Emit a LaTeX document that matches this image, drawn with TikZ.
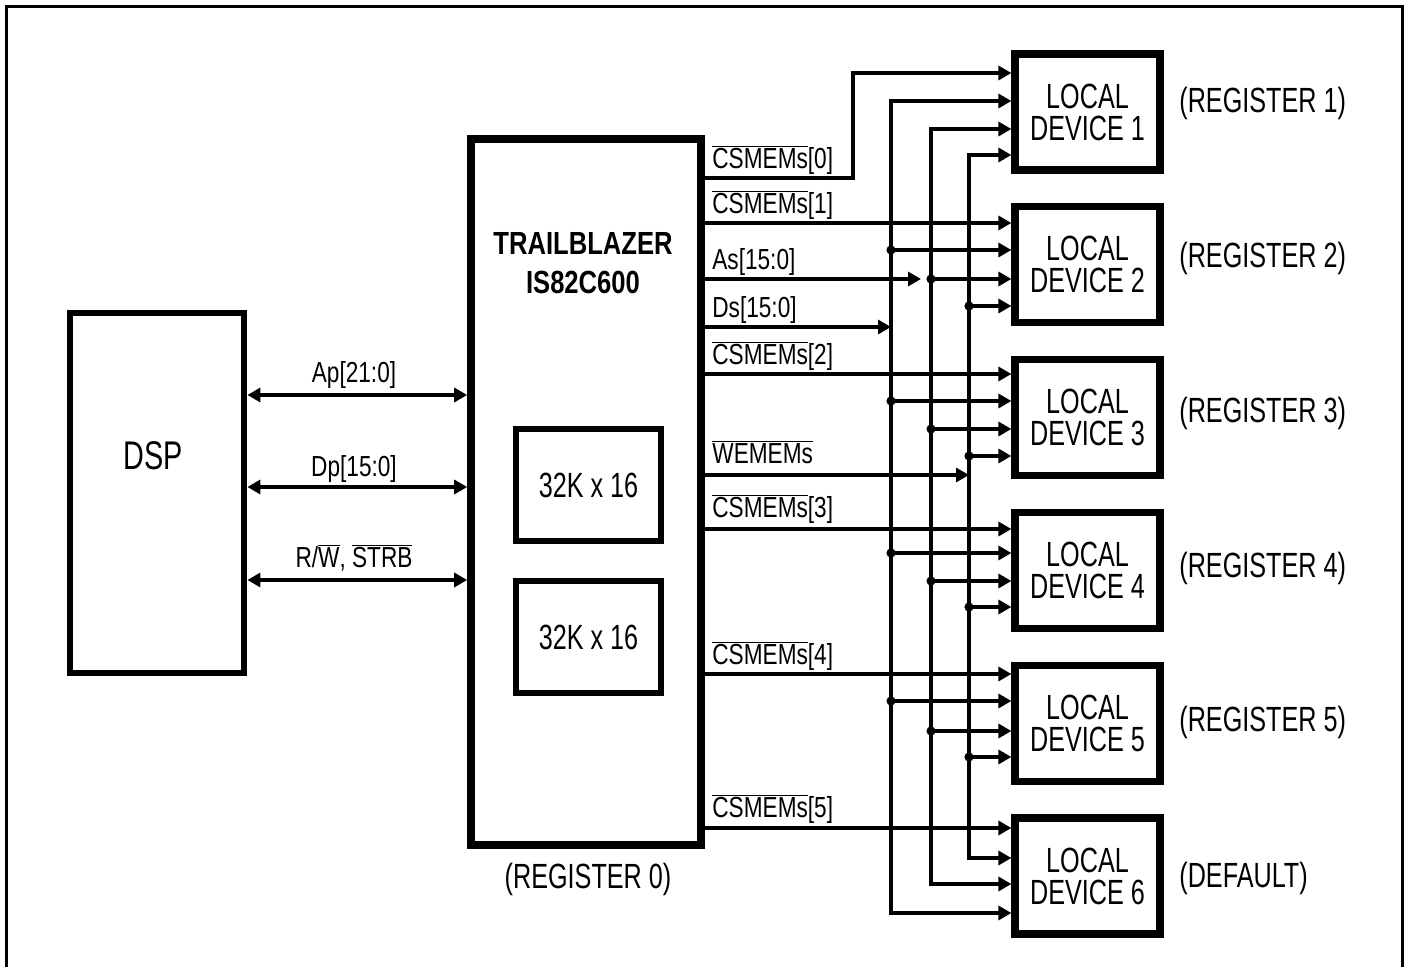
\documentclass[tikz,border=0pt]{standalone}
\usepackage{fontspec}
\setmainfont{Liberation Sans}[FakeStretch=0.72]
\newfontfamily\boldfam{Liberation Sans}[FakeStretch=0.8]
\newfontfamily\sigfam{Liberation Sans}[FakeStretch=0.78]
\usetikzlibrary{arrows.meta}
\newcommand\ovl[1]{\ensuremath{\overline{\mbox{#1}}}}
\tikzset{
  >={Triangle[length=6.5pt,width=7pt]},
  frame/.style={line width=1.5pt},
  blk/.style={draw, line width=3.4pt, inner sep=0pt},
  devbox/.style={blk, line width=3.6pt, minimum width=72.5pt, minimum height=58pt, align=center,
    font=\fontsize{17.5}{16}\selectfont},
  membox/.style={draw, line width=2.8pt, inner sep=0pt, minimum width=72.5pt, minimum height=56pt,
    font=\fontsize{17.5}{20}\selectfont},
  reglbl/.style={inner sep=0pt, font=\fontsize{17.5}{20}\selectfont},
  siglbl/.style={inner sep=0pt, anchor=base west, font=\sigfam\fontsize{14.5}{17}\selectfont},
  buslbl/.style={inner sep=0pt, anchor=base, font=\sigfam\fontsize{14.5}{17}\selectfont},
  sig/.style={line width=1.6pt},
  jdot/.style={circle, fill, inner sep=0pt, minimum size=4.6pt}
}
\begin{document}
\begin{tikzpicture}[x=0.5pt,y=-0.5pt]
\useasboundingbox (0,0) rectangle (1409,967);
\draw[frame] (6.5,6.5) rectangle (1402,1000);

% DSP
\node[blk, minimum width=87pt, minimum height=180pt] (dsp) at (157,493) {};
\node[inner sep=0pt, font=\fontsize{20}{24}\selectfont] (dsplbl) at (153,456) {DSP};

% Chip
\node[blk, line width=3.8pt, minimum width=115pt, minimum height=353pt] (chip) at (586,492) {};
\node[inner sep=0pt, align=center, font=\boldfam\bfseries\fontsize{16}{19.5}\selectfont] (title) at (583,263) {TRAILBLAZER\\IS82C600};
\node[membox] (mem1) at (588.5,485) {32K x 16};
\node[membox] (mem2) at (588.5,637) {32K x 16};
\node[reglbl] (reg0) at (588,879) {(REGISTER 0)};

% Devices
\foreach \i/\yc in {1/110,2/262.8,3/415.6,4/568.4,5/721.2,6/874}{
  \node[devbox] (dev\i) at (1087.5,\yc+2) {LOCAL\\DEVICE \i};
}
\foreach \i/\ry in {1/103,2/258,3/413,4/568,5/722}{
  \node[reglbl, anchor=west] (reg\i) at (1179,\ry) {(REGISTER \i)};
}
\node[reglbl, anchor=west] (regdef) at (1179,878) {(DEFAULT)};

% DSP <-> chip buses
\draw[sig,<->] (dsp.east |- 0,395) -- (chip.west |- 0,395);
\draw[sig,<->] (dsp.east |- 0,487) -- (chip.west |- 0,487);
\draw[sig,<->] (dsp.east |- 0,580) -- (chip.west |- 0,580);
\node[buslbl] (lAp) at (354,383) {Ap[21:0]};
\node[buslbl] (lDp) at (354,477) {Dp[15:0]};
\node[buslbl] (lRW) at (354,568) {R/\ovl{W}, \ovl{STRB}};

% bus columns
\coordinate (busC) at (853,0);
\coordinate (busD) at (891,0);
\coordinate (busA) at (931,0);
\coordinate (busW) at (969,0);

% vertical buses (device 1 to device 6)
\draw[sig,<->] (dev1.west |- 0,101) -| (busD |- 0,913) -- (dev6.west |- 0,913);
\draw[sig,<->] (dev1.west |- 0,129) -| (busA |- 0,884) -- (dev6.west |- 0,884);
\draw[sig,<->] (dev1.west |- 0,155) -| (busW |- 0,858) -- (dev6.west |- 0,858);

% branches to devices 2..5
\foreach \d/\yd/\ya/\yw in {2/250/279/306, 3/401/429/456, 4/553/581/607, 5/701/731/757}{
  \draw[sig,->] (busD |- 0,\yd) -- (dev\d.west |- 0,\yd);
  \draw[sig,->] (busA |- 0,\ya) -- (dev\d.west |- 0,\ya);
  \draw[sig,->] (busW |- 0,\yw) -- (dev\d.west |- 0,\yw);
  \node[jdot] (jd\d) at (busD |- 0,\yd) {};
  \node[jdot] (ja\d) at (busA |- 0,\ya) {};
  \node[jdot] (jw\d) at (busW |- 0,\yw) {};
}

% chip outputs
\draw[sig,->] (chip.east |- 0,178) -| (busC |- 0,73) -- (dev1.west |- 0,73);
\draw[sig,->] (chip.east |- 0,223) -- (dev2.west |- 0,223);
\draw[sig,->,shorten >=2.5pt] (chip.east |- 0,279) -- (ja2);
\draw[sig,->] (chip.east |- 0,327) -- (busD |- 0,327);
\draw[sig,->] (chip.east |- 0,374) -- (dev3.west |- 0,374);
\draw[sig,->] (chip.east |- 0,475) -- (busW |- 0,475);
\draw[sig,->] (chip.east |- 0,529) -- (dev4.west |- 0,529);
\draw[sig,->] (chip.east |- 0,674) -- (dev5.west |- 0,674);
\draw[sig,->] (chip.east |- 0,828) -- (dev6.west |- 0,828);

\node[siglbl] (l0) at (712,169) {\ovl{CSMEMs}[0]};
\node[siglbl] (l1) at (712,214) {\ovl{CSMEMs}[1]};
\node[siglbl] (lA) at (712,270) {As[15:0]};
\node[siglbl] (lD) at (712,318) {Ds[15:0]};
\node[siglbl] (l2) at (712,365) {\ovl{CSMEMs}[2]};
\node[siglbl] (lW) at (712,464) {\ovl{WEMEMs}};
\node[siglbl] (l3) at (712,518) {\ovl{CSMEMs}[3]};
\node[siglbl] (l4) at (712,665) {\ovl{CSMEMs}[4]};
\node[siglbl] (l5) at (712,818) {\ovl{CSMEMs}[5]};
\end{tikzpicture}
\end{document}
